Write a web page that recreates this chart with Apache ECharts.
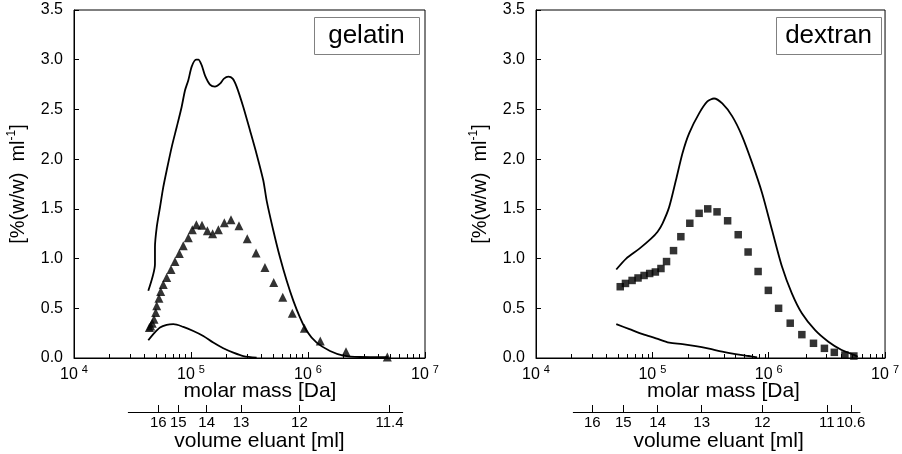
<!DOCTYPE html>
<html>
<head>
<meta charset="utf-8">
<script src="https://cdn.jsdelivr.net/npm/echarts@6/dist/echarts.min.js"></script>
<style>html,body{margin:0;padding:0;background:#fff;}#c{width:902px;height:454px;}</style>
</head>
<body>
<div id="c"></div>
<script>
// ---------- data (x values are log10 of molar mass in Da) ----------
const decadeExps = [4, 5, 6, 7];
const minorMultipliers = [2, 3, 4, 5, 6, 7, 8, 9];
const yTickStep = 0.5;

const gelatinTopLogM = [4.635,4.692,4.692,4.707,4.735,4.763,4.792,4.835,4.878,4.920,4.949,4.977,5.006,5.043,5.063,5.091,5.120,5.162,5.205,5.248,5.282,5.319,5.356,5.390,5.447,5.504,5.561,5.618,5.647,5.704,5.761,5.818,5.875,5.932,5.989,6.074,6.188,6.302,6.444,6.685];
const gelatinTopVal  = [0.676,0.945,1.113,1.314,1.516,1.718,1.886,2.121,2.323,2.525,2.693,2.794,2.93,3.00,3.00,2.945,2.84,2.75,2.73,2.76,2.81,2.83,2.81,2.73,2.525,2.29,2.05,1.785,1.58,1.28,1.01,0.777,0.575,0.407,0.272,0.154,0.071,0.025,0.01,0.008];

const gelatinTriLogM = [4.644,4.655,4.669,4.684,4.698,4.707,4.726,4.741,4.763,4.792,4.829,4.863,4.900,4.934,4.977,5.011,5.046,5.094,5.140,5.185,5.234,5.285,5.342,5.410,5.481,5.556,5.632,5.707,5.784,5.866,5.969,6.105,6.325,6.678];
const gelatinTriVal  = [0.306,0.323,0.35,0.39,0.457,0.525,0.60,0.67,0.74,0.81,0.89,0.97,1.05,1.13,1.21,1.29,1.34,1.335,1.28,1.25,1.29,1.36,1.39,1.33,1.20,1.056,0.91,0.76,0.61,0.45,0.30,0.17,0.064,0.01];

const gelatinLowLogM = [4.635,4.678,4.735,4.792,4.849,4.934,5.020,5.105,5.190,5.276,5.362,5.447,5.561];
const gelatinLowVal  = [0.178,0.24,0.306,0.333,0.34,0.313,0.272,0.222,0.155,0.098,0.054,0.02,0.003];

const dextranTopLogM = [4.690,4.775,4.889,4.989,5.045,5.088,5.145,5.203,5.259,5.316,5.402,5.473,5.530,5.601,5.687,5.772,5.858,5.943,6.028,6.114,6.199,6.285,6.399,6.513,6.627,6.741,6.765];
const dextranTopVal  = [0.89,1.00,1.10,1.20,1.27,1.355,1.52,1.79,2.06,2.26,2.46,2.58,2.61,2.56,2.43,2.23,1.96,1.66,1.29,0.92,0.65,0.45,0.28,0.164,0.08,0.027,0.012];

const dextranSqLogM = [4.724,4.769,4.826,4.877,4.929,4.977,5.026,5.074,5.122,5.182,5.245,5.322,5.402,5.476,5.556,5.647,5.738,5.823,5.909,5.997,6.085,6.185,6.285,6.385,6.479,6.564,6.655,6.732];
const dextranSqVal  = [0.717,0.75,0.78,0.805,0.83,0.85,0.865,0.90,0.97,1.08,1.22,1.355,1.455,1.50,1.47,1.38,1.24,1.066,0.87,0.68,0.50,0.35,0.235,0.148,0.097,0.057,0.03,0.02];

const dextranLowLogM = [4.690,4.803,4.917,5.031,5.145,5.259,5.373,5.487,5.601,5.715,5.829,5.900];
const dextranLowVal  = [0.34,0.29,0.24,0.198,0.154,0.14,0.12,0.094,0.064,0.04,0.02,0.007];

// volume eluant axes: tick labels and their positions (log10 molar mass)
const gelatinVolLabels = ['16','15','14','13','12','11.4'];
const gelatinVolLogM   = [4.7205,4.891,5.134,5.427,5.926,6.695];
const gelatinVolRange  = [4.4645,6.808];
const dextranVolLabels = ['16','15','14','13','12','11','10.6'];
const dextranVolLogM   = [4.481,4.746,5.040,5.416,5.934,6.485,6.690];
const dextranVolRange  = [4.319,6.769];

const panelTitles = ['gelatin','dextran'];

// ---------- helpers ----------
const FONT = "'Liberation Sans', Arial, sans-serif";
const pairs = (xs, ys) => xs.map((x, i) => [x, ys[i]]);
const minorTicks = [];
decadeExps.slice(0, -1).forEach(e => minorMultipliers.forEach(m => minorTicks.push(e + Math.log10(m))));

const panels = [
  {left: 74, top: 10, width: 351, height: 348, volLeft: 128.3, volWidth: 274.4, namePad: 21, volNamePad: -12},
  {left: 536, top: 10, width: 352, height: 348, volLeft: 573.3, volWidth: 286.7, namePad: 26, volNamePad: 4}
];
const vols = [
  {labels: gelatinVolLabels, pos: gelatinVolLogM, range: gelatinVolRange},
  {labels: dextranVolLabels, pos: dextranVolLogM, range: dextranVolRange}
];

const grid = [], xAxis = [], yAxis = [];
panels.forEach((p, k) => {
  grid.push({left: p.left, top: p.top, width: p.width, height: p.height, show: true, borderColor: '#000', borderWidth: 1, backgroundColor: 'transparent'});
  const gMain = grid.length - 1;
  grid.push({left: p.left, top: p.top, width: p.width, height: p.height, show: false});
  const gMinor = grid.length - 1;
  grid.push({left: p.volLeft, top: 411, width: p.volWidth, height: 1, show: false});
  const gVol = grid.length - 1;

  xAxis.push({
    gridIndex: gMain, type: 'value', min: decadeExps[0], max: decadeExps[decadeExps.length - 1], interval: 1,
    splitLine: {show: false},
    axisLine: {lineStyle: {color: '#000', width: 1}},
    axisTick: {inside: true, length: 6, lineStyle: {color: '#000'}},
    axisLabel: {
      margin: 6, color: '#000', fontFamily: FONT,
      formatter: v => '{b|10}{s|' + v + '}',
      rich: {
        b: {fontSize: 16, fontFamily: FONT, color: '#000', lineHeight: 22},
        s: {fontSize: 11, fontFamily: FONT, color: '#000', lineHeight: 13, verticalAlign: 'top', padding: [0, 0, 0, 4]}
      }
    },
    name: 'molar mass [Da]', nameLocation: 'middle', nameGap: 23, nameMoveOverlap: false,
    nameTextStyle: {fontSize: 21, fontFamily: FONT, color: '#000', padding: [0, 0, 0, p.namePad]}
  });
  xAxis.push({
    gridIndex: gMinor, type: 'value', min: decadeExps[0], max: decadeExps[decadeExps.length - 1],
    splitLine: {show: false}, axisLine: {show: false}, axisLabel: {show: false},
    axisTick: {inside: true, length: 4, customValues: minorTicks, lineStyle: {color: '#000'}}
  });
  const v = vols[k];
  xAxis.push({
    gridIndex: gVol, type: 'value', min: v.range[0], max: v.range[1],
    splitLine: {show: false},
    axisLine: {lineStyle: {color: '#000', width: 1}},
    axisTick: {inside: true, length: 7, customValues: v.pos, lineStyle: {color: '#000'}},
    axisLabel: {
      customValues: v.pos, margin: 3, fontSize: 15, fontFamily: FONT, color: '#000',
      formatter: val => {
        let best = 0;
        v.pos.forEach((q, i) => { if (Math.abs(q - val) < Math.abs(v.pos[best] - val)) best = i; });
        return v.labels[best];
      }
    },
    name: 'volume eluant [ml]', nameLocation: 'middle', nameGap: 18,
    nameTextStyle: {fontSize: 21, fontFamily: FONT, color: '#000', padding: p.volNamePad >= 0 ? [0, 0, 0, p.volNamePad] : [0, -p.volNamePad, 0, 0]}
  });

  yAxis.push({
    gridIndex: gMain, type: 'value', min: 0, max: 3.5, interval: yTickStep,
    splitLine: {show: false},
    axisLine: {show: true, lineStyle: {color: '#000', width: 1}},
    axisTick: {show: true, inside: true, length: 5, lineStyle: {color: '#000'}},
    axisLabel: {margin: 11, fontSize: 16, fontFamily: FONT, color: '#000', formatter: val => val.toFixed(1)},
    name: '{a|[%(w/w)  ml}{s|-1}{a|]}', nameLocation: 'middle', nameGap: 44, nameRotate: 90,
    nameTextStyle: {
      rich: {
        a: {fontSize: 20, fontFamily: FONT, color: '#000', lineHeight: 24},
        s: {fontSize: 12, fontFamily: FONT, color: '#000', lineHeight: 14, verticalAlign: 'top'}
      }
    }
  });
  yAxis.push({gridIndex: gMinor, type: 'value', min: 0, max: 1, show: false});
  yAxis.push({gridIndex: gVol, type: 'value', min: 0, max: 1, show: false});
});

const lineStyle = {color: '#000', width: 1.8};
const series = [
  {type: 'line', xAxisIndex: 0, yAxisIndex: 0, data: pairs(gelatinTopLogM, gelatinTopVal), showSymbol: false, smooth: 0.25, lineStyle},
  {type: 'line', xAxisIndex: 0, yAxisIndex: 0, data: pairs(gelatinLowLogM, gelatinLowVal), showSymbol: false, smooth: 0.3, lineStyle},
  {type: 'scatter', xAxisIndex: 0, yAxisIndex: 0, data: pairs(gelatinTriLogM, gelatinTriVal), symbol: 'triangle', symbolSize: 9, itemStyle: {color: '#000'}},
  {type: 'line', xAxisIndex: 3, yAxisIndex: 3, data: pairs(dextranTopLogM, dextranTopVal), showSymbol: false, smooth: 0.25, lineStyle},
  {type: 'line', xAxisIndex: 3, yAxisIndex: 3, data: pairs(dextranLowLogM, dextranLowVal), showSymbol: false, smooth: 0.3, lineStyle},
  {type: 'scatter', xAxisIndex: 3, yAxisIndex: 3, data: pairs(dextranSqLogM, dextranSqVal), symbol: 'rect', symbolSize: 7.5, itemStyle: {color: '#000'}}
];

const boxes = [{x: 314, y: 17}, {x: 776, y: 17}];
const graphic = [];
boxes.forEach((b, k) => {
  graphic.push({type: 'rect', left: b.x, top: b.y, shape: {width: 105, height: 37}, style: {fill: '#fff', stroke: '#808080', lineWidth: 1}, z: 100});
  graphic.push({type: 'text', x: b.x + 52.5, y: b.y + 19, style: {text: panelTitles[k], font: '26px ' + FONT, fill: '#000', textAlign: 'center', textVerticalAlign: 'middle'}, z: 101});
});

const chart = echarts.init(document.getElementById('c'), null, {renderer: 'canvas'});
chart.setOption({
  animation: false,
  backgroundColor: '#fff',
  grid, xAxis, yAxis, series, graphic
});
</script>
</body>
</html>
